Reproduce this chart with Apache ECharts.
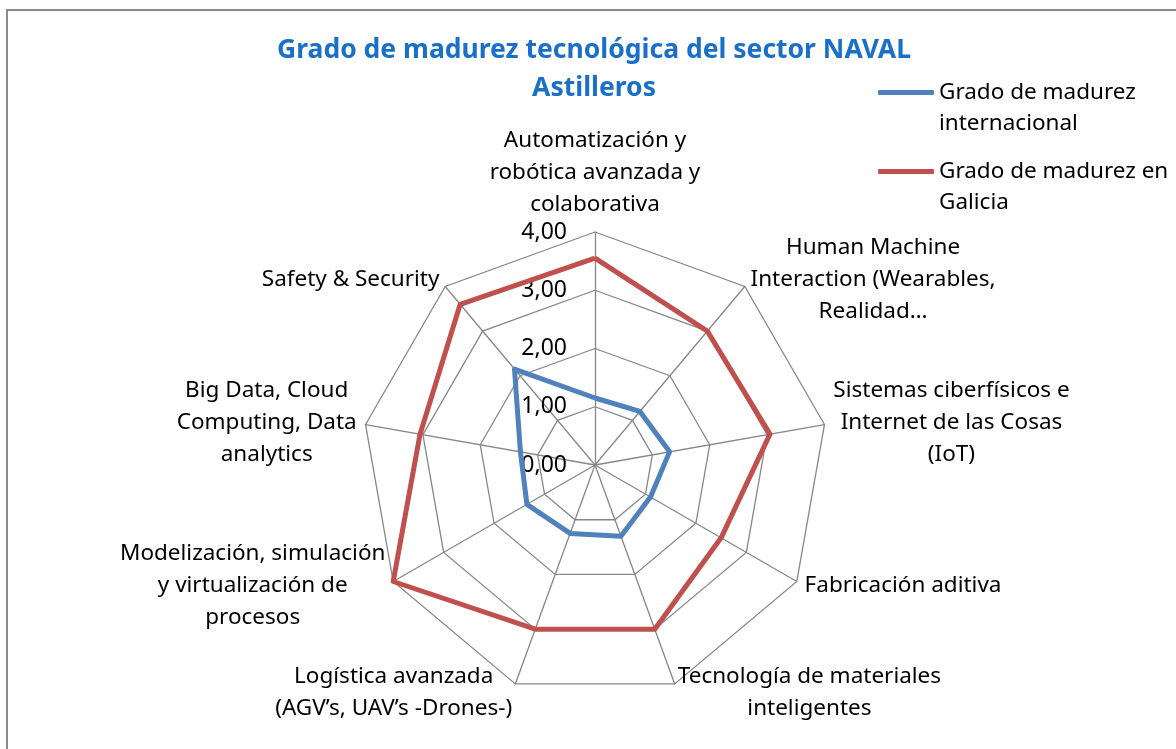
<!DOCTYPE html>
<html lang="es">
<head>
    <meta charset="UTF-8">
    <title>Grado de madurez tecnológica del sector NAVAL</title>
    <script src="https://cdn.jsdelivr.net/npm/echarts@6/dist/echarts.min.js"></script>
    <style>
        body {
            margin: 0;
            background: #fff;
            overflow: hidden;
        }
        .frame {
            position: absolute;
            left: 6px;
            top: 9px;
            width: 1300px;
            height: 900px;
            border: 2px solid #8a8a8a;
        }
        #main {
            position: absolute;
            left: 0;
            top: 0;
            width: 1176px;
            height: 749px;
        }
    </style>
</head>
<body>
    <div class="frame"></div>
    <div id="main"></div>
    <script type="text/javascript">
        // ejes en el orden de ECharts (desde arriba, sentido antihorario)
        const categorias = [
            'Automatización y\nrobótica avanzada y\ncolaborativa',
            'Safety & Security',
            'Big Data, Cloud\nComputing, Data\nanalytics',
            'Modelización, simulación\ny virtualización de\nprocesos',
            'Logística avanzada\n(AGV’s, UAV’s -Drones-)',
            'Tecnología de materiales\ninteligentes',
            'Fabricación aditiva',
            'Sistemas ciberfísicos e\nInternet de las Cosas\n(IoT)',
            'Human Machine\nInteraction (Wearables,\nRealidad…'
        ];
        const internacional = [1.15, 2.15, 1.3, 1.35, 1.25, 1.3, 1.1, 1.3, 1.2];
        const galicia = [3.55, 3.6, 3.05, 4.0, 3.0, 3.0, 2.5, 3.05, 3.0];
        const nombres = ['Grado de madurez\ninternacional', 'Grado de madurez en\nGalicia'];
        const colores = ['#4F81BD', '#C0504D'];

        const fuente = 'Noto Sans';
        const tam = 22.5;
        const chart = echarts.init(document.getElementById('main'));

        function leyenda(i, top) {
            return {
                data: [nombres[i]],
                left: 873,
                top: top,
                icon: 'roundRect',
                itemWidth: 56,
                itemHeight: 5,
                formatter: function (n) { return '\n' + n; },
                textStyle: {
                    color: '#000',
                    fontFamily: fuente,
                    fontSize: tam,
                    lineHeight: 31
                }
            };
        }

        option = {
            animation: false,
            title: {
                text: 'Grado de madurez tecnológica del sector NAVAL\nAstilleros',
                left: 589,
                top: 26,
                textAlign: 'center',
                textStyle: {
                    color: '#1A70C8',
                    fontFamily: fuente,
                    fontWeight: 'bold',
                    fontSize: 26.5,
                    lineHeight: 38
                }
            },
            legend: [leyenda(0, 41), leyenda(1, 120)],
            radar: {
                center: [595, 465],
                radius: 233,
                startAngle: 90,
                shape: 'polygon',
                splitNumber: 4,
                indicator: categorias.map(function (c, i) {
                    const ind = { name: c, min: 0, max: 4 };
                    if (i > 0) ind.axisLabel = { show: false };
                    return ind;
                }),
                axisNameGap: 9,
                axisName: {
                    color: '#000',
                    fontFamily: fuente,
                    fontSize: tam,
                    lineHeight: 32,
                    formatter: function (name) {
                        return name.split('\n').map(function (l) { return '{c|' + l + '}'; }).join('\n');
                    },
                    rich: {
                        c: {
                            align: 'center',
                            color: '#000',
                            fontFamily: fuente,
                            fontSize: tam,
                            lineHeight: 32
                        }
                    }
                },
                axisLine: { lineStyle: { color: '#878787', width: 1.3 } },
                splitLine: { lineStyle: { color: '#878787', width: 1.3 } },
                splitArea: { show: false },
                axisTick: { show: false },
                axisLabel: {
                    show: true,
                    margin: 28,
                    color: '#000',
                    fontFamily: fuente,
                    fontSize: 23,
                    formatter: function (v) { return v.toFixed(2).replace('.', ','); }
                }
            },
            series: [{
                type: 'radar',
                symbol: 'none',
                data: [internacional, galicia].map(function (vals, i) {
                    return {
                        name: nombres[i],
                        value: vals,
                        itemStyle: { color: colores[i] },
                        lineStyle: { color: colores[i], width: 5 }
                    };
                })
            }]
        };
        chart.setOption(option);
    </script>
</body>
</html>
